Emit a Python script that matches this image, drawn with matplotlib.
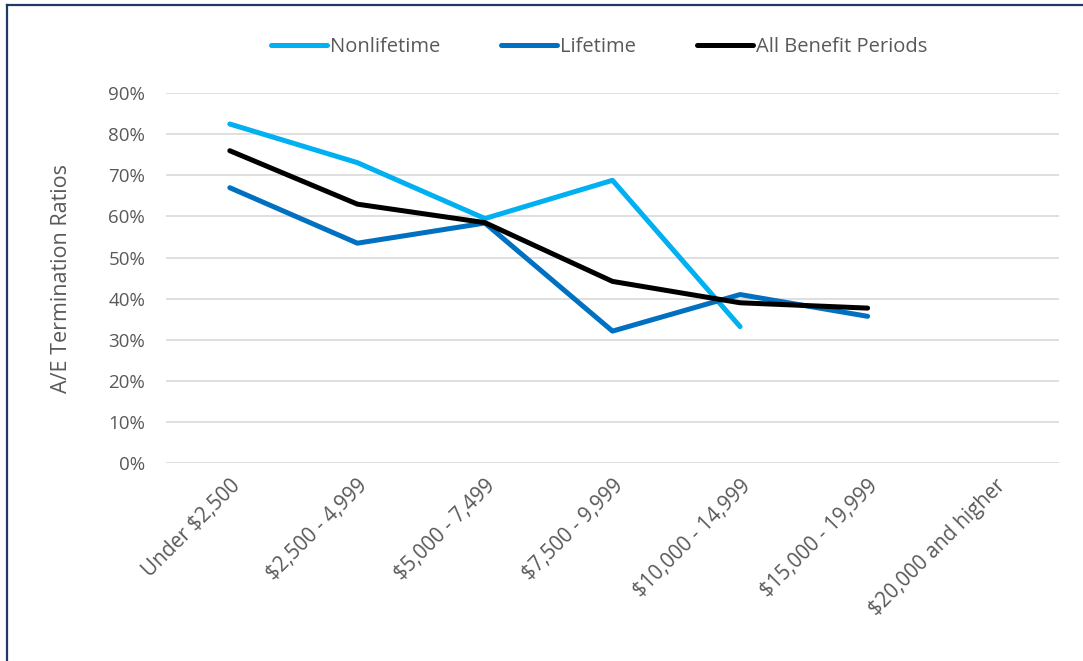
import numpy as np
import matplotlib
matplotlib.use("Agg")
import matplotlib.pyplot as plt
from matplotlib.lines import Line2D
from matplotlib.ticker import PercentFormatter

# benefit amount bands
categories = ["Under $2,500", "$2,500 - 4,999", "$5,000 - 7,499", "$7,500 - 9,999",
              "$10,000 - 14,999", "$15,000 - 19,999", "$20,000 and higher"]

# A/E ratios (nan = no data)
nonlifetime = [0.825, 0.731, 0.595, 0.688, 0.332, np.nan, np.nan]
lifetime = [0.670, 0.535, 0.584, 0.321, 0.410, 0.357, np.nan]
all_periods = [0.760, 0.630, 0.585, 0.442, 0.390, 0.377, np.nan]

plt.rcParams['font.family'] = ['Open Sans', 'DejaVu Sans']
grey = '#595959'

fig = plt.figure(figsize=(10.83, 6.61), dpi=100)
ax = fig.add_axes([0.1533, 0.2995, 0.8245, 0.5595])

x = np.arange(len(categories))
ax.plot(x, nonlifetime, color='#00B0F0', lw=3.6, solid_capstyle='round', label='Nonlifetime')
ax.plot(x, lifetime, color='#0070C0', lw=3.6, solid_capstyle='round', label='Lifetime')
ax.plot(x, all_periods, color='black', lw=3.6, solid_capstyle='round', label='All Benefit Periods')

ax.set_xlim(-0.5, len(categories) - 0.5)
ax.set_ylim(0, 0.9)
ax.set_yticks(np.arange(0, 0.91, 0.1))
ax.yaxis.set_major_formatter(PercentFormatter(1.0, decimals=0))
ax.grid(axis='y', color='#D9D9D9', lw=1.2)
ax.set_axisbelow(True)
for s in ax.spines.values():
    s.set_visible(False)
ax.tick_params(length=0, colors=grey, labelsize=13.5)
ax.tick_params(axis='y', pad=15)

ax.set_xticks(x)
ax.set_xticklabels([c.replace('$', r'\$') for c in categories], rotation=45,
                   ha='right', rotation_mode='anchor', fontsize=14.8, color=grey)
ax.tick_params(axis='x', pad=9)

ax.set_ylabel('A/E Termination Ratios', fontsize=15.5, color=grey, labelpad=26)

leg = ax.legend(loc='lower center', bbox_to_anchor=(0.485, 1.048), ncol=3, frameon=False,
                fontsize=14.5, handlelength=2.8, handletextpad=0.15, columnspacing=3.0)
for t in leg.get_texts():
    t.set_color(grey)

# navy frame on top and left edge
fig.add_artist(Line2D([0.0065, 1.0], [0.9917, 0.9917], color='#1F3864', lw=1.6))
fig.add_artist(Line2D([0.0065, 0.0065], [0.0, 0.9917], color='#1F3864', lw=1.6))

fig.savefig('out.png', dpi=100)
